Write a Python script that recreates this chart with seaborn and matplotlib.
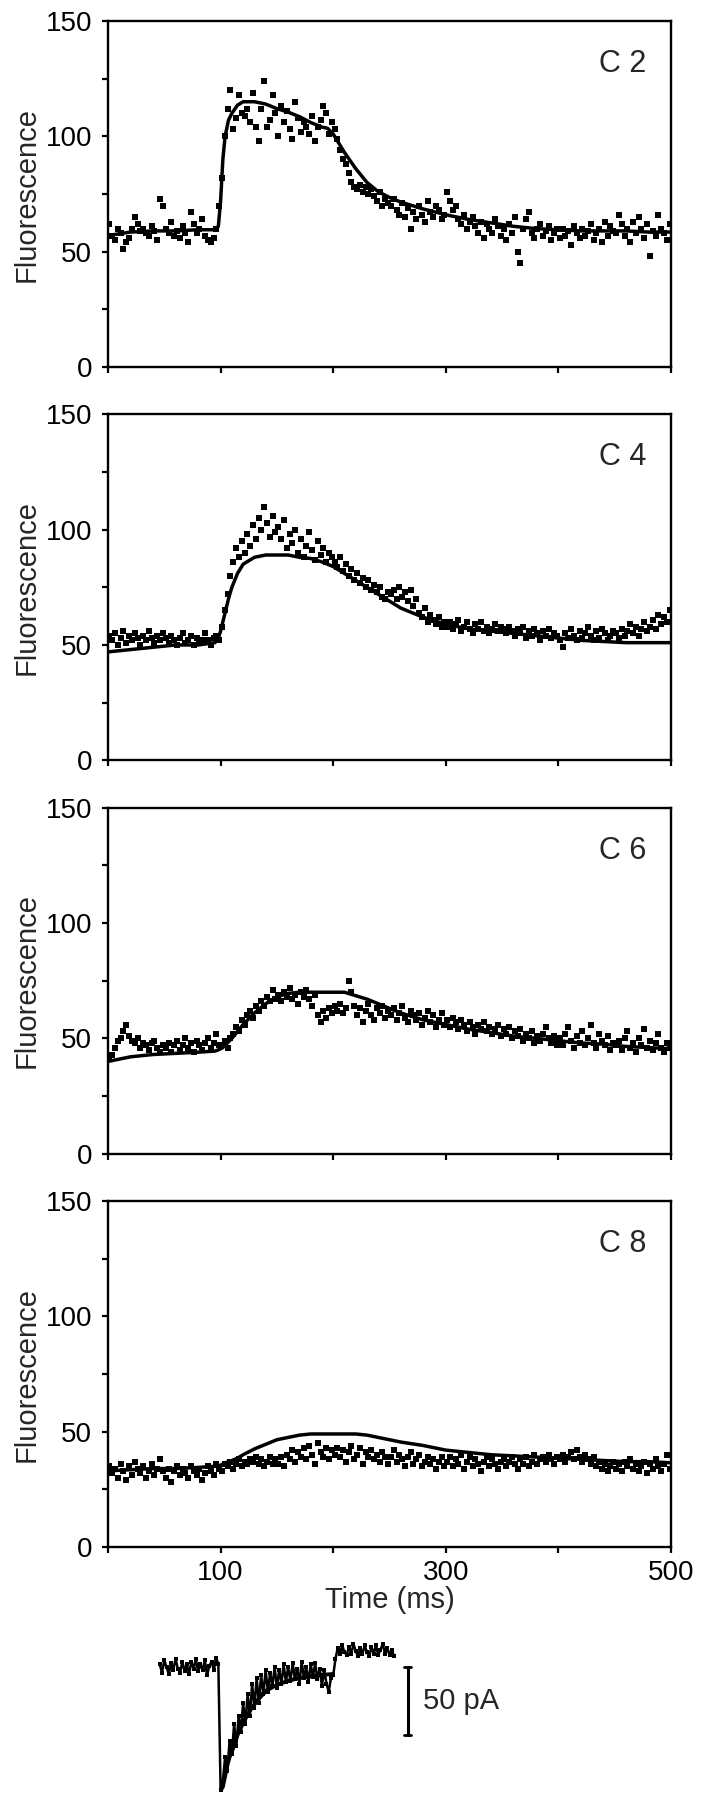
import matplotlib
matplotlib.use("Agg")
import matplotlib.pyplot as plt
import numpy as np
import pandas as pd
import seaborn as sns

# fluorescence samples, one value every 2.5 ms (rows = 50 ms)
sample_t = np.arange(200) * 2.5 + 1.25

c2_pts = [62, 57, 55, 60, 58, 51, 54, 56, 60, 65, 62, 59, 60, 58, 57, 61, 59, 55, 73, 70,
          60, 58, 63, 57, 59, 56, 61, 58, 54, 67, 62, 58, 60, 64, 57, 55, 54, 56, 60, 70,
          82, 100, 112, 120, 103, 108, 118, 110, 109, 112, 106, 119, 104, 98, 112, 124, 104, 107, 118, 110,
          100, 113, 106, 111, 103, 99, 115, 108, 102, 106, 104, 101, 109, 98, 104, 107, 113, 110, 101, 106,
          103, 99, 94, 90, 88, 84, 80, 78, 77, 79, 76, 78, 75, 77, 74, 72, 76, 70, 73, 71,
          70, 73, 68, 66, 71, 65, 69, 60, 67, 64, 70, 66, 63, 72, 67, 65, 70, 68, 64, 66,
          76, 72, 68, 70, 64, 62, 66, 60, 63, 65, 61, 58, 63, 56, 62, 60, 58, 64, 61, 57,
          60, 55, 62, 58, 65, 50, 45, 60, 64, 67, 58, 56, 60, 62, 57, 59, 61, 55, 58, 60,
          56, 60, 57, 59, 53, 61, 58, 56, 60, 57, 59, 62, 55, 58, 60, 54, 63, 57, 61, 59,
          58, 66, 62, 57, 60, 54, 63, 58, 65, 60, 56, 62, 48, 59, 57, 66, 60, 58, 55, 62]

c4_pts = [54, 52, 55, 50, 53, 56, 51, 54, 52, 55, 53, 50, 54, 52, 56, 53, 51, 54, 52, 55,
          53, 51, 54, 52, 50, 53, 55, 51, 52, 54, 50, 53, 51, 52, 55, 52, 50, 53, 54, 52,
          58, 65, 72, 80, 86, 92, 88, 95, 90, 98, 93, 102, 96, 105, 100, 110, 103, 97, 106, 99,
          101, 96, 104, 92, 98, 94, 100, 90, 96, 88, 93, 99, 91, 87, 95, 89, 92, 86, 90, 88,
          86, 84, 88, 82, 85, 80, 83, 78, 81, 77, 79, 75, 78, 74, 76, 73, 75, 71, 70, 73,
          72, 74, 70, 75, 71, 73, 69, 74, 67, 70, 64, 62, 66, 60, 63, 61, 59, 62, 58, 60,
          58, 60, 57, 59, 61, 56, 58, 60, 57, 55, 59, 57, 60, 56, 58, 55, 57, 59, 56, 58,
          57, 55, 58, 56, 54, 57, 55, 58, 53, 56, 54, 57, 55, 52, 56, 54, 57, 53, 55, 54,
          52, 49, 55, 53, 57, 54, 52, 56, 53, 55, 58, 54, 52, 56, 53, 57, 55, 52, 54, 56,
          55, 53, 57, 54, 56, 59, 55, 58, 54, 57, 60, 56, 58, 61, 57, 63, 59, 62, 60, 65]

c6_pts = [41, 43, 46, 49, 50, 53, 56, 51, 49, 48, 50, 46, 48, 47, 45, 48, 49, 46, 44, 47,
          46, 48, 44, 47, 49, 45, 47, 50, 46, 48, 44, 49, 47, 45, 48, 50, 46, 48, 52, 47,
          47, 49, 46, 50, 52, 55, 53, 58, 56, 60, 62, 59, 64, 62, 66, 64, 68, 66, 71, 67,
          69, 66, 70, 68, 72, 67, 69, 65, 70, 68, 71, 67, 64, 69, 60, 57, 62, 59, 63, 61,
          64, 62, 65, 61, 63, 75, 70, 64, 60, 63, 57, 62, 65, 60, 58, 63, 61, 64, 59, 62,
          60, 63, 58, 61, 64, 59, 57, 62, 60, 58, 61, 56, 59, 62, 57, 60, 55, 58, 61, 56,
          58, 55, 59, 57, 54, 58, 56, 53, 57, 55, 52, 56, 54, 57, 53, 55, 52, 54, 56, 51,
          54, 52, 55, 50, 53, 51, 54, 49, 52, 50, 53, 48, 51, 49, 52, 55, 50, 48, 51, 47,
          50, 47, 52, 55, 49, 46, 51, 48, 53, 47, 50, 56, 48, 46, 52, 49, 47, 51, 45, 48,
          47, 49, 45, 50, 53, 46, 48, 44, 50, 47, 54, 46, 49, 45, 48, 52, 46, 44, 48, 46]

c8_pts = [35, 32, 34, 30, 36, 33, 29, 35, 31, 37, 34, 32, 35, 30, 33, 36, 31, 34, 38, 33,
          30, 34, 28, 33, 35, 31, 34, 32, 30, 35, 33, 31, 34, 29, 32, 35, 33, 31, 36, 34,
          33, 36, 35, 37, 34, 36, 38, 35, 37, 36, 38, 37, 39, 36, 38, 35, 37, 39, 36, 38,
          36, 39, 35, 40, 38, 42, 37, 41, 39, 43, 38, 44, 40, 36, 45, 41, 39, 43, 38, 42,
          40, 43, 39, 42, 37, 41, 44, 38, 40, 43, 36, 41, 39, 42, 38, 40, 37, 41, 39, 36,
          39, 42, 37, 40, 38, 35, 39, 41, 36, 38, 40, 35, 37, 39, 36, 38, 34, 37, 39, 35,
          37, 39, 35, 38, 36, 40, 34, 37, 39, 35, 38, 36, 33, 37, 39, 35, 38, 36, 34, 37,
          38, 35, 37, 39, 36, 34, 38, 36, 39, 35, 37, 40, 36, 38, 39, 37, 40, 38, 36, 39,
          38, 40, 37, 39, 41, 38, 42, 39, 37, 40, 38, 36, 39, 35, 37, 34, 36, 33, 35, 37,
          34, 36, 33, 37, 35, 38, 34, 36, 33, 35, 37, 32, 36, 34, 38, 35, 33, 36, 40, 34]

# fitted curves
fit_t = [0, 20, 40, 60, 80, 95, 98, 100, 102, 104, 107, 110, 115, 120, 130, 140, 150, 160, 170, 180,
         190, 195, 200, 205, 210, 220, 230, 240, 250, 260, 280, 300, 320, 340, 360, 380, 400, 420,
         440, 460, 480, 500]
c2_fit = [57, 58.5, 59, 59, 59.5, 59.5, 61, 72, 90, 100, 107, 110, 113.5, 115, 115, 114, 112, 110.5,
          108.5, 106, 104, 103.5, 101, 97, 93, 86, 80, 76, 73.5, 71.5, 68.5, 66, 64, 62.5, 61, 60,
          59.5, 59, 59, 59, 58.5, 58.5]
c4_fit = [47, 48, 49, 50, 50, 51, 53, 56, 60, 64, 70, 75, 81, 85, 88, 89, 89, 89, 88, 87.5, 86, 85,
          84, 82.5, 81, 78, 75, 72, 69, 66, 62, 59, 57, 56, 55, 54, 53, 52, 51.5, 51, 51, 51]
c6_fit = [40, 42, 43, 43.5, 44, 44.5, 45, 45.5, 46, 47, 48.5, 50, 53, 56, 61, 65, 68, 69.5, 70, 70,
          70, 70, 70, 70, 70, 68.5, 67, 65, 63, 61, 58, 56, 54, 52.5, 51, 50, 49, 48, 47.5, 46.5,
          46, 45.5]
c8_fit = [33, 33.5, 34, 34, 34.5, 35, 35, 35.5, 36, 36.5, 37, 37.5, 38.5, 40, 42.5, 44.5, 46.5,
          47.5, 48.5, 49, 49, 49, 49, 49, 49, 49, 48.5, 47.5, 46.5, 45.5, 44, 42, 41, 40, 39.5,
          39, 38.5, 38, 37.5, 37, 37, 36.5]

panel_names = ["C 2", "C 4", "C 6", "C 8"]
panel_pts = [c2_pts, c4_pts, c6_pts, c8_pts]
panel_fit = [c2_fit, c4_fit, c6_fit, c8_fit]

# membrane current (pA), every 2 ms from 46 to 254 ms
current_t = np.arange(46, 256, 2)
current_pA = [2, -4, 5, 0, -5, 3, -2, 6, -1, -4, 4, -3, 2, -5, 4, -1, 6, -3, 2, -2, 5, -6, 1, 4, -2, 7, 2,
              -90,
              -84, -66, -76, -54, -64, -42, -58, -36, -48, -26, -42, -20, -36, -12, -30, -8, -26,
              -6, -20, -2, -18, -4, -14, 0, -15, -2, -12, 2, -11, 0, -10, 3, -9, -1, -12, 4, -8, 0,
              -11, 2, -7, 3, -9, -1, -14, -2, -12, -18, -8,
              -6, 6, 14, 10, 16, 11, 9, 15, 10, 17, 12, 8, 14, 10, 16, 11, 8, 15, 10, 16, 9, 13, 17,
              10, 14, 9, 13, 8]
current_fit_t = [100.5, 102, 104, 106, 108, 111, 115, 120, 126, 133, 141, 150, 160, 170, 185, 200]
current_fit = [-90, -88, -80, -72, -66, -60, -50, -41, -32, -24, -17, -13, -10, -8, -6, -5]
scalebar_t = 266
scalebar_pA = 50

sns.set_style("ticks")
plt.rcParams['font.family'] = ['Liberation Sans', 'DejaVu Sans']
plt.rcParams.update({
    'axes.linewidth': 1.7,
    'axes.edgecolor': 'black',
    'xtick.major.width': 1.6, 'ytick.major.width': 1.6,
    'ytick.minor.width': 1.6,
    'xtick.major.size': 4.5, 'ytick.major.size': 4.5, 'ytick.minor.size': 4.5,
    'xtick.direction': 'out', 'ytick.direction': 'out',
    'xtick.color': 'black', 'ytick.color': 'black',
})

fig = plt.figure(figsize=(7.04, 18), dpi=100)
left, width, height = 108 / 704, 563 / 704, 346 / 1800
tops = [21, 414.3, 807.7, 1201]

for i in range(4):
    ax = fig.add_axes([left, 1 - (tops[i] + 346) / 1800, width, height])
    df = pd.DataFrame({'t': sample_t, 'F': panel_pts[i]})
    sns.scatterplot(data=df, x='t', y='F', marker='s', s=18, color='black',
                    linewidth=0, ax=ax)
    sns.lineplot(x=fit_t, y=panel_fit[i], color='black', lw=2.5, estimator=None, ax=ax)
    ax.set_xlim(0, 500)
    ax.set_ylim(0, 150)
    ax.set_yticks([0, 50, 100, 150])
    ax.set_yticks([25, 75, 125], minor=True)
    ax.set_xticks(range(0, 501, 100))
    ax.tick_params(axis='y', which='both', labelsize=20, pad=7)
    ax.tick_params(axis='x', labelsize=20, pad=5)
    if i == 3:
        ax.set_xticklabels(['', '100', '', '300', '', '500'])
        ax.set_xlabel('Time (ms)', fontsize=21, labelpad=0)
    else:
        ax.set_xticklabels([])
        ax.set_xlabel('')
    ax.set_ylabel('Fluorescence', fontsize=21)
    ax.yaxis.set_label_coords(-0.12, 0.5)
    ax.text(0.9556, 1 - 51 / 346, panel_names[i], transform=ax.transAxes,
            ha='right', va='baseline', fontsize=22)

# current trace below, on the same time scale
axc = fig.add_axes([left, 1 - 1795 / 1800, width, 155 / 1800])
sns.lineplot(x=current_t, y=current_pA, color='black', lw=1.8, estimator=None, ax=axc)
sns.scatterplot(x=current_t, y=current_pA, marker='s', s=10, color='black', linewidth=0, ax=axc)
sns.lineplot(x=current_fit_t, y=current_fit, color='black', lw=2.8, estimator=None, ax=axc)
axc.plot([scalebar_t, scalebar_t], [0, -scalebar_pA], color='black', lw=2.2)
axc.plot([scalebar_t - 3.5, scalebar_t + 3.5], [0, 0], color='black', lw=2)
axc.plot([scalebar_t - 3.5, scalebar_t + 3.5], [-scalebar_pA, -scalebar_pA], color='black', lw=2)
axc.text(scalebar_t + 14, -scalebar_pA / 2, '50 pA', ha='left', va='center', fontsize=21)
axc.set_xlim(0, 500)
axc.set_ylim(-94, 20)
axc.axis('off')

fig.savefig('out.png', dpi=100)
